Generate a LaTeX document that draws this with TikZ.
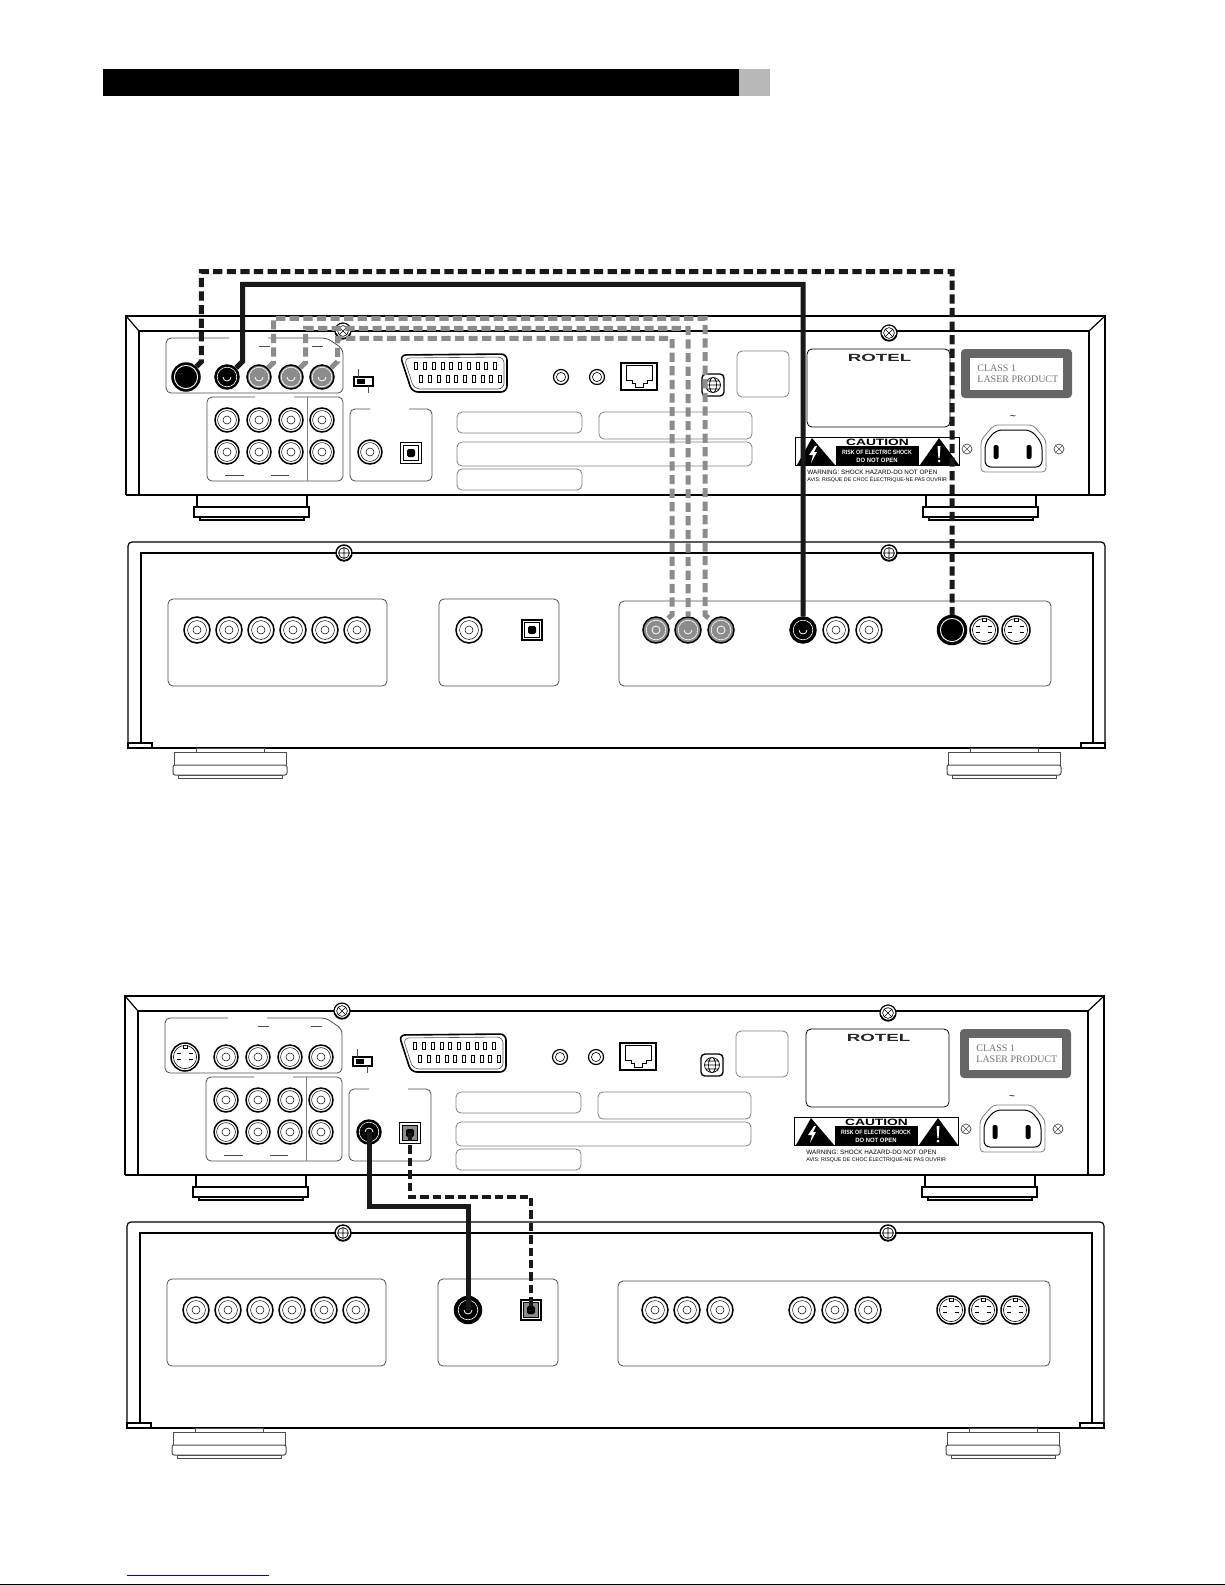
\documentclass[tikz,border=0pt]{standalone}
\usepackage{fontspec}
\setmainfont{Liberation Sans}
\newfontfamily\labelserif{Liberation Serif}
\definecolor{cablegray}{gray}{0.55}
\definecolor{linegray}{gray}{0.3}

% back of the upper unit, everything but the plugged sockets
\newcommand{\rearbody}[1]{
    \draw[case] (126,495) -- (126,316) -- (1105,316) -- (1105,495);
    \draw[case,line width=1.2pt] (126,495) -- (1105,495);
    \draw[case,line width=.7pt] (139,495) -- (139,331) -- (1089,331) -- (1089,495);
    \draw[case] (126,316) -- (139,331) (1105,316) -- (1089,331);
    \foreach \fx in {197,926} {
        \draw[case] (\fx,495) rectangle ++(110,12);
        \draw[case,fill=white] (\fx-3,507) rectangle ++(115,10);
        \draw[case] (\fx+3,517) rectangle ++(104,3);
    }
    \node[screwx] (#1s1) at (343,331) {};
    \node[screwx] (#1s2) at (889,333) {};
    % socket panels
    \draw[panel] (229,338) -- (166,338) -- (166,393) -- (343,393) -- (343,349) -- (327,338) -- (268,338);
    \draw[panel] (259,346) -- (270,346) (312,346) -- (323,346);
    \draw[panel] (255,397) -- (207,397) -- (207,481) -- (343,481) -- (343,397) -- (294,397);
    \draw[panel,draw=gray] (307,397) -- (307,481);
    \draw[panel] (225,475) -- (244,475) (271,475) -- (289,475);
    \draw[panel] (370,409) -- (350,409) -- (350,481) -- (432,481) -- (432,409) -- (409,409);
    \foreach \jx [count=\i] in {227,259,291,322} {
        \node[jack] (#1a\i) at (\jx,420) {};
        \node[jack] (#1b\i) at (\jx,452) {};
    }
    % slide switch
    \draw[case] (354,377) rectangle (373,386);
    \fill (357,379) rectangle (365,384);
    \draw[panel] (358,369) -- (358,377) (368,386) -- (368,393);
    % scart
    \draw[case,line width=.8pt,rounded corners=3pt] (400,355) -- (412,392) -- (507,392) -- (507,354) -- cycle;
    \draw[panel,line width=.3pt,rounded corners=3pt] (404,358) -- (414,389) -- (504,389) -- (504,357) -- cycle;
    \foreach \px in {0,...,9} {
        \draw[pin] (\px*8.78+414.5,362.5) rectangle ++(3,7);
        \draw[pin] (\px*8.78+419.5,375.5) rectangle ++(3,7);
    }
    \node[minijack] (#1m1) at (561,377) {};
    \node[minijack] (#1m2) at (597,377) {};
    % network socket
    \draw[case,line width=.8pt] (621,363) rectangle (657,390);
    \draw[draw=black,line width=.35pt] (626,365) -- (626,380) -- (632,380) -- (632,383) -- (635,383) -- (635,387) -- (643,387) -- (643,383) -- (647,383) -- (647,380) -- (652,380) -- (652,365) -- cycle;
    % globe
    \draw[case,rounded corners=2pt,line width=.7pt] (702,374) rectangle (724,396);
    \draw[draw=black,line width=.35pt] (713,385) circle (7.5) (713,385) ellipse (3.5 and 7.5) (705.5,385) -- (720.5,385) (706.5,381) -- (719.5,381) (706.5,389) -- (719.5,389);
    \draw[panel,gray] (737,351) rectangle (789,397);
    \draw[panel,draw=black] (807,349) rectangle (950,427);
    \node[rotel] (#1logo) at (879.5,357.5) {\scalebox{1.8}[1]{ROTEL}};
    % label strips
    \draw[panel,gray] (457,412) rectangle (582,433);
    \draw[panel,gray] (599,412) rectangle (752,439);
    \draw[panel,gray] (457,442) rectangle (752,466);
    \draw[panel,gray] (457,469) rectangle (582,490);
    % laser label
    \fill[black!60,rounded corners=2pt] (961,349) rectangle (1072,398);
    \fill[white] (970,358) rectangle (1063,390);
    \node[laser] (#1class) at (977,368) {CLASS 1};
    \node[laser] (#1laser) at (977,379) {LASER PRODUCT};
    % caution label
    \draw[line width=.35pt] (795,437) rectangle (959,465);
    \fill (836,446) rectangle (919,465);
    \fill (812,438) -- (835,465) -- (797,465) -- cycle;
    \fill (939,438) -- (959,465) -- (920,465) -- cycle;
    \fill[white] (815,446) -- (809,455) -- (813,455) -- (811,463) -- (817,452) -- (814,452) -- (817,446) -- cycle;
    \fill[white] (937.5,446) -- (940.5,446) -- (939.6,458) -- (938.4,458) -- cycle (939,461) circle (1.5);
    \node[warn,font=\bfseries\fontsize{4.6}{5}\selectfont] (#1cau) at (877.5,442) {\scalebox{1.5}[1]{CAUTION}};
    \node[warn,white,font=\bfseries\fontsize{3.1}{4}\selectfont] (#1risk) at (877,452) {\scalebox{.85}[1]{RISK OF ELECTRIC SHOCK}};
    \node[warn,white,font=\bfseries\fontsize{3.1}{4}\selectfont] (#1open) at (877,460) {\scalebox{.95}[1]{DO NOT OPEN}};
    \node[warn,anchor=west,font=\fontsize{3.15}{4}\selectfont] (#1warn) at (807,472) {WARNING: SHOCK HAZARD-DO NOT OPEN};
    \node[warn,anchor=west,font=\fontsize{2.66}{4}\selectfont] (#1avis) at (807,480) {AVIS: RISQUE DE CHOC \'ELECTRIQUE-NE PAS OUVRIR};
    % mains inlet
    \node[warn,font=\fontsize{5}{5}\selectfont] (#1tilde) at (1013,418) {\textasciitilde};
    \draw[panel,gray,rounded corners=2pt] (981,440) -- (994,425) -- (1033,425) -- (1046,440) -- (1046,472) -- (981,472) -- cycle;
    \draw[panel,draw=black,rounded corners=3pt,line width=.5pt] (985,443) -- (996,430) -- (1031,430) -- (1042,443) -- (1042,467) -- (985,467) -- cycle;
    \fill[rounded corners=1pt] (993.5,445) rectangle (998.5,459) (1026.5,445) rectangle (1031.5,459);
    \node[screwsmall] (#1s3) at (967,449) {};
    \node[screwsmall] (#1s4) at (1059,449) {};
}

% back of the lower unit, everything but the plugged sockets
\newcommand{\lowerbody}[1]{
    \draw[case,rounded corners=2pt] (128,748) -- (128,542) -- (1105,542) -- (1105,748);
    \draw[case,line width=1pt] (128,748) -- (1105,748);
    \draw[case,line width=.7pt] (141,743) -- (141,553) -- (1093,553) -- (1093,743);
    \draw[case,fill=white] (128,743) rectangle (152,748) (1081,743) rectangle (1105,748);
    \foreach \fx in {174,948} {
        \draw[foot] (\fx+22,748) rectangle ++(68,4);
        \draw[foot] (\fx,752) rectangle ++(112,13);
        \draw[foot,rounded corners=1pt] (\fx-1,765) rectangle ++(114,10);
        \draw[foot] (\fx+4,775) rectangle ++(104,3);
    }
    \node[screwp] (#1s1) at (344,553) {};
    \node[screwp] (#1s2) at (889,553) {};
    \draw[panel] (168,599) rectangle (387,686);
    \draw[panel] (439,599) rectangle (559,686);
    \draw[panel] (619,601) rectangle (1051,686);
    \foreach \jx [count=\i] in {197,229,261,293,325,357} {
        \node[jack,minimum size=13pt] (#1f\i) at (\jx,630) {};
    }
}

\begin{document}
\begin{tikzpicture}[
    x=.5pt,y=-.5pt,
    case/.style={draw=black,line width=.6pt,line join=miter},
    foot/.style={draw=black!70,line width=.5pt,fill=white},
    panel/.style={draw=linegray,line width=.4pt,rounded corners=2.5pt},
    pin/.style={draw=black,line width=.3pt},
    jack/.style={circle,draw=black,line width=.75pt,fill=white,minimum size=12pt,inner sep=0pt,
        path picture={\draw[line width=.25pt] (path picture bounding box.center) circle (4.7pt) (path picture bounding box.center) circle (2pt);}},
    minijack/.style={circle,draw=black,line width=.6pt,fill=white,minimum size=7.5pt,inner sep=0pt,
        path picture={\draw[line width=.3pt] (path picture bounding box.center) circle (2.3pt);}},
    plug/.style n args={3}{circle,draw=black,line width=.75pt,fill=#1,minimum size=12pt,inner sep=0pt,
        path picture={\draw[white,line width=.3pt] (path picture bounding box.center) circle (4.9pt);
            \draw[white,line width=.4pt] (path picture bounding box.center) ++(#2:2pt) arc[start angle=#2,end angle=#3,radius=2pt];}},
    bigplug/.style={circle,draw=black,line width=.75pt,fill=black,minimum size=14pt,inner sep=0pt,
        path picture={\draw[white,line width=.45pt] (path picture bounding box.center) circle (5.8pt);}},
    svideo/.style={jack,minimum size=14pt,
        path picture={\draw[line width=.3pt] (path picture bounding box.center) circle (5.8pt);
            \draw[line width=.3pt] (path picture bounding box.center) ++(-1pt,5.8pt) -- ++(0pt,-1.4pt) -- ++(2pt,0pt) -- ++(0pt,1.4pt);
            \draw[line width=.6pt] (path picture bounding box.center) ++(-4.2pt,1.8pt) -- ++(2.4pt,0pt) ++(3.6pt,0pt) -- ++(2.4pt,0pt)
                (path picture bounding box.center) ++(-4.2pt,-1.2pt) -- ++(2.4pt,0pt) ++(3.6pt,0pt) -- ++(2.4pt,0pt);}},
    optical/.style={rectangle,draw=black,line width=.95pt,fill=white,minimum size=10.5pt,inner sep=0pt,
        path picture={\draw[line width=.3pt,fill=#1] (path picture bounding box.center) ++(-3.8pt,-3.8pt) rectangle ++(7.6pt,7.6pt);
            \fill[black,rounded corners=.8pt] (path picture bounding box.center) ++(-2pt,-2pt) rectangle ++(4pt,4pt);}},
    optical/.default=white,
    screwx/.style={circle,draw=black,line width=.6pt,fill=white,minimum size=8pt,inner sep=0pt,
        path picture={\draw[line width=.3pt] (path picture bounding box.center) circle (2.7pt)
            (path picture bounding box.center) ++(-2pt,-2pt) -- ++(4pt,4pt) (path picture bounding box.center) ++(-2pt,2pt) -- ++(4pt,-4pt);
            \draw[line width=1pt] (path picture bounding box.center) ++(200:3.9pt) arc[start angle=200,end angle=340,radius=3.9pt];}},
    screwp/.style={circle,draw=black,line width=.7pt,fill=white,minimum size=8pt,inner sep=0pt,
        path picture={\draw[line width=.35pt] (path picture bounding box.center) circle (2.7pt)
            (path picture bounding box.center) ++(-2.7pt,0pt) -- ++(5.4pt,0pt) (path picture bounding box.center) ++(0pt,-2.7pt) -- ++(0pt,5.4pt);
            \draw[line width=1pt] (path picture bounding box.center) ++(200:3.9pt) arc[start angle=200,end angle=340,radius=3.9pt];}},
    screwsmall/.style={circle,draw=black!70,line width=.35pt,fill=white,minimum size=5pt,inner sep=0pt,
        path picture={\draw[black!70,line width=.3pt] (path picture bounding box.center) ++(-1.8pt,-1.8pt) -- ++(3.6pt,3.6pt) (path picture bounding box.center) ++(-1.8pt,1.8pt) -- ++(3.6pt,-3.6pt);}},
    rotel/.style={inner sep=0pt,font=\bfseries\fontsize{5.2}{6}\selectfont,text=black!85},
    laser/.style={anchor=west,inner sep=0pt,text=black!55,font=\labelserif\fontsize{5}{6}\selectfont},
    warn/.style={inner sep=0pt},
    solidcable/.style={draw=black!90,line width=2.5pt},
    dashcable/.style={draw=black!90,line width=2.5pt,dash pattern=on 4.6pt off 2.2pt},
    graycable/.style={draw=cablegray,line width=2.5pt,dash pattern=on 4.6pt off 2.2pt},
    thincable/.style={draw=black!90,line width=1.8pt,dash pattern=on 4.2pt off 2pt},
    ]
    \useasboundingbox (0,0) rectangle (1225,1585);
    % header bar
    \fill[black] (103,69) rectangle (739,96);
    \fill[black!28] (739,69) rectangle (770,96);

    % first pair of units
    \rearbody{u}
    \node[bigplug] (uvid) at (186,377) {};
    \node[plug={black}{180}{360}] (uy) at (227,377) {};
    \node[plug={cablegray}{180}{360}] (uc1) at (259,377) {};
    \node[plug={cablegray}{180}{360}] (uc2) at (291,377) {};
    \node[plug={cablegray}{180}{360}] (uc3) at (322,377) {};
    \node[jack] (ucoax) at (370,452) {};
    \node[optical] (uopt) at (411,453) {};
    \lowerbody{l}
    \node[jack,minimum size=13pt] (lcoax) at (469,630) {};
    \node[optical,minimum size=10pt] (lopt) at (532,630) {};
    \node[plug={cablegray}{0}{360},minimum size=13pt] (lc1) at (656,630) {};
    \node[plug={cablegray}{180}{360},minimum size=13pt] (lc2) at (688,630) {};
    \node[plug={cablegray}{0}{360},minimum size=13pt] (lc3) at (721,630) {};
    \node[plug={black}{180}{360},minimum size=13pt] (ly) at (803,630) {};
    \node[jack,minimum size=13pt] (lr1) at (836,630) {};
    \node[jack,minimum size=13pt] (lr2) at (869,630) {};
    \node[bigplug,minimum size=14.5pt] (lvid) at (952,630) {};
    \node[svideo] (lsv1) at (984,630) {};
    \node[svideo] (lsv2) at (1016,630) {};
    \coordinate (bendl) at (672,615);
    \coordinate (bendr) at (705,615);

    \draw[dashcable] (uvid.north east) -- ++(5,-5) -- ++(0,-90) -| (lvid.north);
    \draw[solidcable] (uy.north east) -- ++(6.5,-6.5) -- ++(0,-77) -| (ly.north);
    \draw[graycable] (uc1.north east) -- ++(5.5,-5.5) -- ++(0,-44) -| (bendr) -- (lc3.north west);
    \draw[graycable] (uc2.north east) -- ++(5.5,-5.5) -- ++(0,-34) -| (lc2.north);
    \draw[graycable] (uc3.north east) -- ++(6.5,-6.5) -- ++(0,-23) -| (bendl) -- (lc1.north east);

    % second pair of units
    \begin{scope}[shift={(-1,680)}]
    \rearbody{v}
    \node[svideo] (vsv) at (186,377) {};
    \foreach \jx [count=\i] in {227,259,291,322} {
        \node[jack] (vj\i) at (\jx,377) {};
    }
    \node[plug={black}{0}{180}] (vcoax) at (370,452) {};
    \node[optical=cablegray] (vopt) at (411,453) {};
    \lowerbody{w}
    \node[plug={black}{180}{360},minimum size=13.5pt] (wcoax) at (469,630) {};
    \node[optical=cablegray,minimum size=10pt] (wopt) at (532,630) {};
    \foreach \jx [count=\i] in {656,688,721,803,836,869} {
        \node[jack,minimum size=13pt] (wr\i) at (\jx,630) {};
    }
    \foreach \jx [count=\i] in {952,984,1016} {
        \node[svideo] (wsv\i) at (\jx,630) {};
    }
    \draw[solidcable] (vcoax.center) |- ++(50,74) -| (wcoax.center);
    \draw[thincable] (vopt.center) |- ++(60,64) -| (wopt.center);
    \end{scope}

    % page foot
    \draw[blue!90!black,line width=.5pt] (127,1575) -- (269,1575);
    \draw[black,line width=.5pt] (0,1584.5) -- (1225,1584.5);
\end{tikzpicture}
\end{document}
